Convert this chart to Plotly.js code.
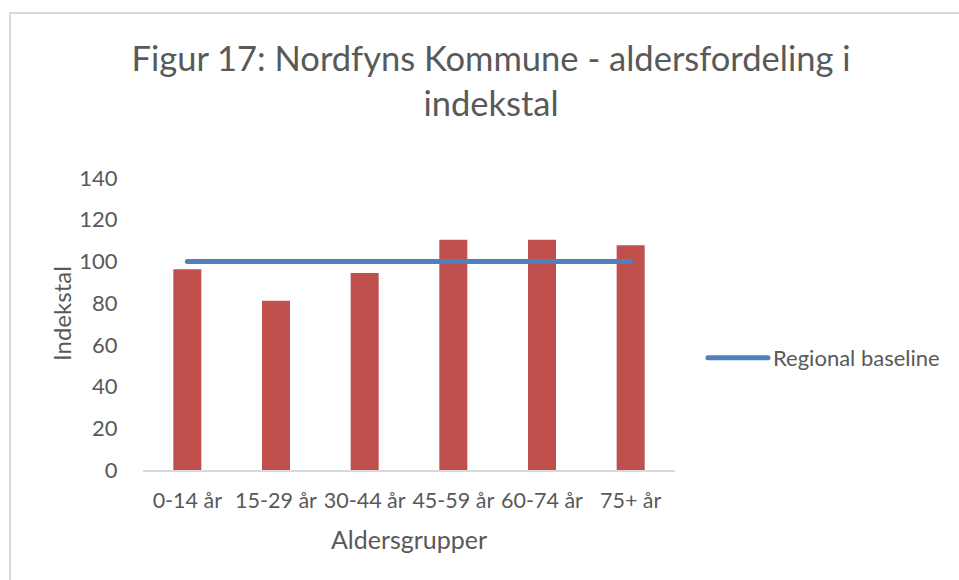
<!DOCTYPE html>
<html>
<head>
<meta charset="utf-8">
<script src="https://cdn.plot.ly/plotly-3.0.1.min.js"></script>
<style>
  html, body { margin: 0; padding: 0; background: #fff; }
  #wrap { position: relative; width: 959px; height: 580px; overflow: hidden; }
  #chart { width: 959px; height: 580px; }
  #frame { position: absolute; left: 9px; top: 12px; right: -10px; bottom: -10px;
           border-left: 2px solid #d9d9d9; border-top: 2px solid #d9d9d9; pointer-events: none; }
  .scatterlayer path.js-line, .legendlines path { stroke-linecap: round; }
</style>
</head>
<body>
<div id="wrap">
  <div id="chart"></div>
  <div id="frame"></div>
</div>
<script>
const categories = ["0-14 år", "15-29 år", "30-44 år", "45-59 år", "60-74 år", "75+ år"];
const indexValues = [96.3, 81.2, 94.4, 110.4, 110.4, 107.8];
const baselineValues = [100, 100, 100, 100, 100, 100];
const yTicks = [0, 20, 40, 60, 80, 100, 120, 140];

const font = "Lato, 'Open Sans', sans-serif";
const grey = "#595959";

const traces = [
  {
    type: "bar",
    x: categories,
    y: indexValues,
    name: "Indekstal",
    marker: { color: "#C0504D" },
    showlegend: false,
    hoverinfo: "x+y"
  },
  {
    type: "scatter",
    mode: "lines",
    x: categories,
    y: baselineValues,
    name: "Regional baseline",
    line: { color: "#4F81BD", width: 5 }
  }
];

const layout = {
  width: 959,
  height: 580,
  paper_bgcolor: "#ffffff",
  plot_bgcolor: "#ffffff",
  margin: { l: 143, r: 284, t: 178, b: 110 },
  bargap: 0.684,
  font: { family: font, color: grey },
  title: {
    text: "Figur 17: Nordfyns Kommune - aldersfordeling i<br>indekstal",
    font: { family: font, size: 34.5, color: grey },
    xref: "container", x: 0.512, xanchor: "center",
    yref: "container", y: 0.878, yanchor: "top"
  },
  xaxis: {
    type: "category",
    showline: true, linecolor: "#d9d9d9", linewidth: 2,
    showgrid: false, zeroline: false,
    ticks: "outside", ticklen: 10, tickcolor: "rgba(0,0,0,0)",
    tickfont: { family: font, size: 21.5, color: grey },
    title: { text: "Aldersgrupper", font: { family: font, size: 25, color: grey }, standoff: 20 }
  },
  yaxis: {
    range: [0, 140],
    tickvals: yTicks,
    showline: false, showgrid: false, zeroline: false,
    ticks: "outside", ticklen: 20, tickcolor: "rgba(0,0,0,0)",
    tickfont: { family: font, size: 22, color: grey }
  },
  annotations: [
    {
      text: "Indekstal",
      textangle: -90,
      xref: "paper", yref: "paper",
      showarrow: false,
      font: { family: font, size: 24, color: grey },
      xanchor: "center", yanchor: "middle"
    }
  ],
  legend: {
    xref: "container", yref: "container",
    xanchor: "left", yanchor: "middle",
    font: { family: font, size: 22, color: grey },
    itemwidth: 60,
    bgcolor: "rgba(0,0,0,0)"
  },
  showlegend: true
};

// pixel placements -> fractions
const plotW = 959 - 143 - 284, plotH = 580 - 178 - 110;
layout.annotations[0].x = (61 - 143) / plotW;
layout.annotations[0].y = (580 - 110 - 314) / plotH;
layout.legend.x = 703 / 959;
layout.legend.y = 1 - 358 / 580;

Plotly.newPlot("chart", traces, layout, { displayModeBar: false, staticPlot: true });
</script>
</body>
</html>
